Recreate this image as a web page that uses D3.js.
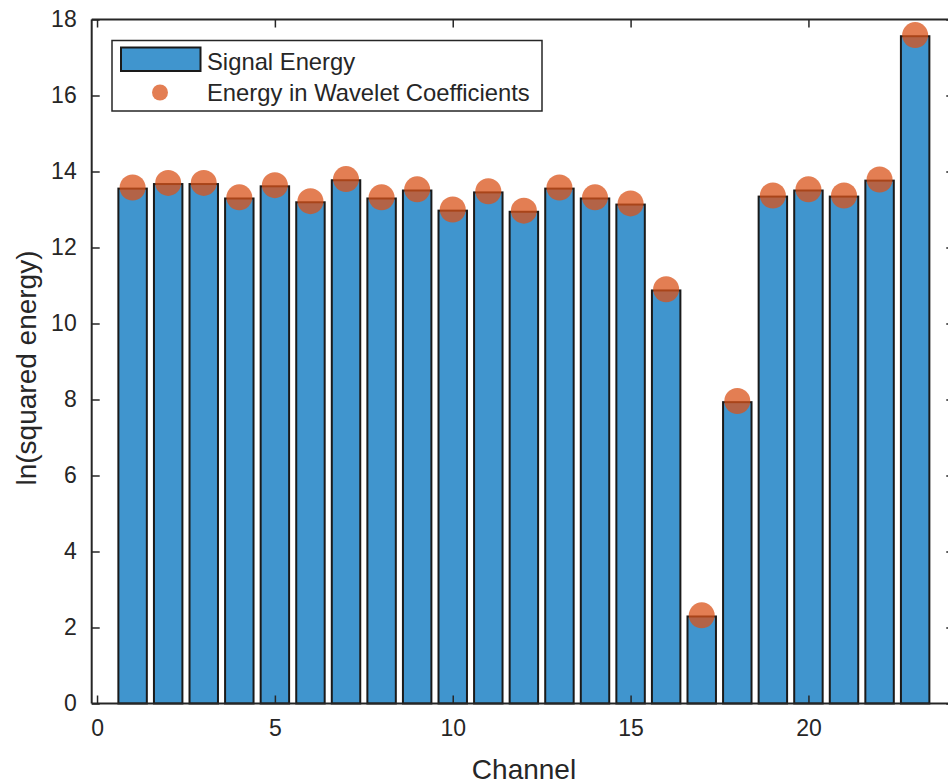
<!DOCTYPE html>
<html>
<head>
<meta charset="utf-8">
<script src="https://cdn.jsdelivr.net/npm/d3@7"></script>
<style>
  html, body { margin: 0; padding: 0; background: #fff; }
  svg { display: block; font-family: "Liberation Sans", Arial, Helvetica, sans-serif; }
</style>
</head>
<body>
<svg id="chart" width="948" height="784"></svg>
<script>
const channels = [1,2,3,4,5,6,7,8,9,10,11,12,13,14,15,16,17,18,19,20,21,22,23];
const signalEnergy = [13.55,13.67,13.67,13.29,13.61,13.19,13.77,13.29,13.50,12.97,13.45,12.94,13.55,13.29,13.13,10.87,2.29,7.93,13.34,13.50,13.34,13.76,17.56];
const waveletEnergy = [13.58,13.70,13.70,13.32,13.64,13.22,13.80,13.32,13.53,13.00,13.48,12.97,13.58,13.32,13.16,10.90,2.32,7.96,13.37,13.53,13.37,13.79,17.59];
const xTicks = [0,5,10,15,20];
const yTicks = [0,2,4,6,8,10,12,14,16,18];
const seriesNames = ["Signal Energy", "Energy in Wavelet Coefficients"];

(function () {
const svg = d3.select("#chart");
const mLeft = 91.7, mTop = 19.5, mBottom = 703.5;
const x = d3.scaleLinear().domain([-0.15, 24.1]).range([mLeft, mLeft + 24.25 * 35.57]);
const y = d3.scaleLinear().domain([0, 18]).range([mBottom, mTop]);
const axisColor = "#262626";
const barFill = "rgb(64,149,206)";
const dotFill = "rgba(217,83,25,0.75)";
const barW = x(0.8) - x(0);

// bars
svg.append("g").selectAll("rect").data(channels).join("rect")
  .attr("x", d => x(d) - barW / 2)
  .attr("y", (d, i) => y(signalEnergy[i]))
  .attr("width", barW)
  .attr("height", (d, i) => y(0) - y(signalEnergy[i]))
  .attr("fill", barFill)
  .attr("stroke", "#1a1a1a")
  .attr("stroke-width", 2);

// dots
svg.append("g").selectAll("circle").data(channels).join("circle")
  .attr("cx", d => x(d))
  .attr("cy", (d, i) => y(waveletEnergy[i]))
  .attr("r", 13)
  .attr("fill", dotFill);

// axes box
const xr = x.range();
const yr = y.range();
const axG = svg.append("g");
axG.append("line").attr("x1", xr[0]).attr("x2", xr[0]).attr("y1", yr[0]).attr("y2", yr[1]).attr("stroke", axisColor).attr("stroke-width", 2);
axG.append("line").attr("x1", xr[0]).attr("x2", xr[1]).attr("y1", yr[0]).attr("y2", yr[0]).attr("stroke", axisColor).attr("stroke-width", 2);
axG.append("line").attr("x1", xr[0]).attr("x2", xr[1]).attr("y1", yr[1]).attr("y2", yr[1]).attr("stroke", axisColor).attr("stroke-width", 2);
axG.append("line").attr("x1", xr[1]).attr("x2", xr[1]).attr("y1", yr[0]).attr("y2", yr[1]).attr("stroke", axisColor).attr("stroke-width", 2);

const gxb = svg.append("g").attr("transform", `translate(0,${mBottom})`)
  .call(d3.axisBottom(x).tickValues(xTicks).tickSizeInner(-8).tickSizeOuter(0).tickPadding(15));
const gxt = svg.append("g").attr("transform", `translate(0,${mTop})`)
  .call(d3.axisTop(x).tickValues(xTicks).tickSizeInner(-8).tickSizeOuter(0).tickFormat(""));
const gyl = svg.append("g").attr("transform", `translate(${mLeft},0)`)
  .call(d3.axisLeft(y).tickValues(yTicks).tickSizeInner(-8).tickSizeOuter(0).tickPadding(15));
const gyr = svg.append("g").attr("transform", `translate(${xr[1]},0)`)
  .call(d3.axisRight(y).tickValues(yTicks).tickSizeInner(-8).tickSizeOuter(0).tickFormat(""));

[gxb, gxt, gyl, gyr].forEach(g => {
  g.select(".domain").remove();
  g.selectAll(".tick line").attr("stroke", axisColor).attr("stroke-width", 1.5);
  g.selectAll(".tick text").attr("fill", axisColor).style("font-size", "23px")
    .style("font-family", "'Liberation Sans', Arial, sans-serif");
});
gxb.selectAll(".tick text").attr("dy", "0.75em");

// axis labels
svg.append("text").attr("x", 524).attr("y", 779).attr("text-anchor", "middle")
  .attr("fill", axisColor).style("font-size", "28px").text("Channel");
svg.append("text").attr("transform", "translate(36,368) rotate(-90)").attr("text-anchor", "middle")
  .attr("fill", axisColor).style("font-size", "28px").text("ln(squared energy)");

// legend
const lg = svg.append("g");
lg.append("rect").attr("x", 112).attr("y", 40.5).attr("width", 430).attr("height", 70.5)
  .attr("fill", "#fff").attr("stroke", axisColor).attr("stroke-width", 1.5);
lg.append("rect").attr("x", 121).attr("y", 47.5).attr("width", 79.5).attr("height", 23.5)
  .attr("fill", barFill).attr("stroke", "#1a1a1a").attr("stroke-width", 2);
lg.append("circle").attr("cx", 160).attr("cy", 92.5).attr("r", 8).attr("fill", dotFill);
lg.append("text").attr("x", 207).attr("y", 70).attr("fill", axisColor).style("font-size", "23.8px").text(seriesNames[0]);
lg.append("text").attr("x", 207).attr("y", 101).attr("fill", axisColor).style("font-size", "23.8px").text(seriesNames[1]);
})();
</script>
</body>
</html>
